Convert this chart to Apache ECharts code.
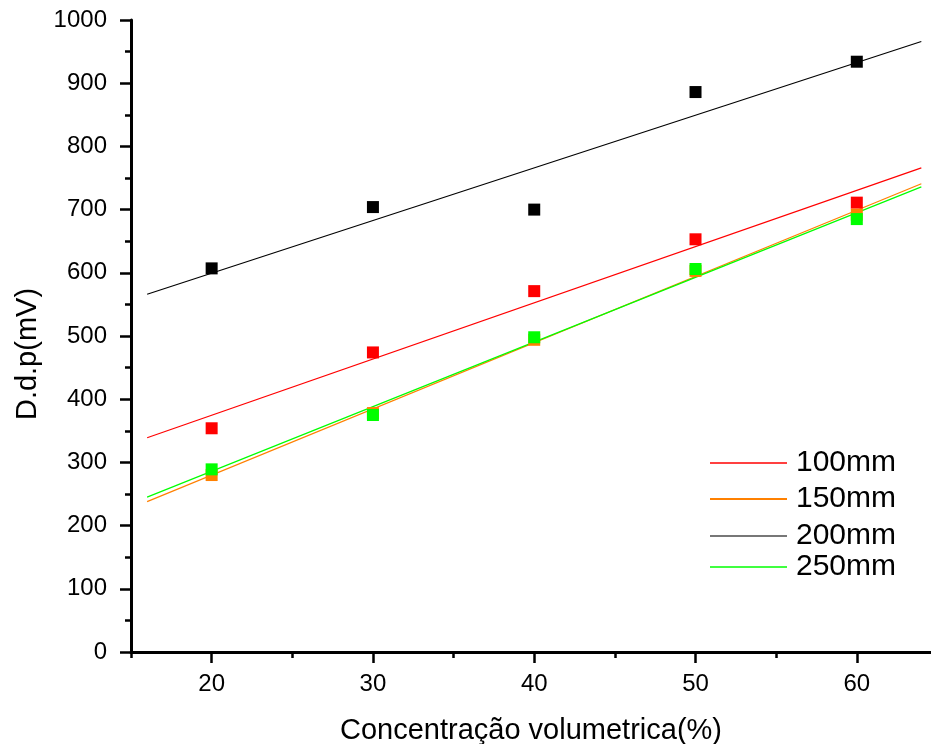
<!DOCTYPE html>
<html>
<head>
<meta charset="utf-8">
<script src="https://cdn.jsdelivr.net/npm/echarts@6/dist/echarts.min.js"></script>
<style>
  html, body { margin: 0; padding: 0; background: #fff; }
  #chart { width: 931px; height: 744px; }
</style>
</head>
<body>
<div id="chart"></div>
<script>
  var conc = [20, 30, 40, 50, 60];
  var ddp100 = [354, 474, 571, 653, 711];
  var ddp150 = [280, 378, 494, 603, 692];
  var ddp200 = [607, 704, 700, 886, 934];
  var ddp250 = [289, 375, 498, 606, 685];

  // retas de ajuste (extremos lidos)
  var fitX = [16, 64];
  var fit100 = [339, 766];
  var fit150 = [238, 741];
  var fit200 = [566, 966];
  var fit250 = [245, 736];

  var names = ['100mm', '150mm', '200mm', '250mm'];
  var xMajorTicks = [20, 30, 40, 50, 60];
  var xMinorTicks = [15, 25, 35, 45, 55];

  var colors = ['#ff0000', '#ff8000', '#000000', '#00ff00'];
  var legendColors = ['#ff4040', '#ff8000', '#777777', '#40ff40'];
  var legendTops = [443, 479, 516, 547];

  var font = 'Liberation Sans, Arial, sans-serif';
  var pts = [ddp100, ddp150, ddp200, ddp250];
  var fits = [fit100, fit150, fit200, fit250];

  function pairs(xs, ys) {
    return xs.map(function (x, i) { return [x, ys[i]]; });
  }

  var chart = echarts.init(document.getElementById('chart'));

  var series = [];
  names.forEach(function (n, i) {
    series.push({
      name: n,
      type: 'line',
      data: pairs(fitX, fits[i]),
      symbol: 'none',
      lineStyle: { color: colors[i], width: 1.2 },
      itemStyle: { color: colors[i] },
      silent: true,
      z: 2
    });
  });
  names.forEach(function (n, i) {
    series.push({
      name: n,
      type: 'scatter',
      data: pairs(conc, pts[i]),
      symbol: 'rect',
      symbolSize: 12,
      itemStyle: { color: colors[i], opacity: 1 },
      z: 3
    });
  });

  var legends = names.map(function (n, i) {
    return {
      left: 705,
      top: legendTops[i],
      orient: 'vertical',
      selectedMode: false,
      icon: 'rect',
      itemWidth: 77,
      itemHeight: 2,
      textStyle: { fontFamily: font, fontSize: 30, color: '#000', padding: [0, 0, 0, 4] },
      data: [{ name: n, itemStyle: { color: legendColors[i] } }]
    };
  });

  var axisLine = { show: true, onZero: false, lineStyle: { color: '#000', width: 3 } };

  var option = {
    animation: false,
    backgroundColor: '#fff',
    legend: legends,
    grid: [
      { left: 131, right: 0, top: 20, bottom: 92, outerBoundsMode: 'none' },
      { left: 131, right: 0, top: 20, bottom: 92, outerBoundsMode: 'none' }
    ],
    xAxis: [
      {
        type: 'value',
        gridIndex: 0,
        min: 15,
        max: 64.6,
        name: 'Concentração volumetrica(%)',
        nameLocation: 'middle',
        nameGap: 64,
        nameTextStyle: { fontFamily: font, fontSize: 29, color: '#000' },
        axisLine: axisLine,
        axisTick: { show: true, length: 11, customValues: xMajorTicks, lineStyle: { color: '#000', width: 2.5 } },
        axisLabel: { customValues: xMajorTicks, margin: 20, fontFamily: font, fontSize: 24, color: '#000' },
        splitLine: { show: false }
      },
      {
        type: 'value',
        gridIndex: 1,
        min: 15,
        max: 64.6,
        axisLine: { show: false },
        axisTick: { show: true, length: 6, customValues: xMinorTicks, lineStyle: { color: '#000', width: 2.5 } },
        axisLabel: { show: false },
        splitLine: { show: false }
      }
    ],
    yAxis: [
      {
        type: 'value',
        gridIndex: 0,
        min: 0,
        max: 1000,
        interval: 100,
        name: 'D.d.p(mV)',
        nameLocation: 'middle',
        nameGap: 81,
        nameTextStyle: { fontFamily: font, fontSize: 29, color: '#000', padding: [0, 36, 0, 0] },
        axisLine: axisLine,
        axisTick: { show: true, length: 11, lineStyle: { color: '#000', width: 2.5 } },
        minorTick: { show: true, splitNumber: 2, length: 6, lineStyle: { color: '#000', width: 2.5 } },
        axisLabel: {
          margin: 24, fontFamily: font, fontSize: 24, color: '#000',
          formatter: function (v) { return String(v); }
        },
        splitLine: { show: false },
        minorSplitLine: { show: false }
      },
      {
        type: 'value',
        gridIndex: 1,
        min: 0,
        max: 1000,
        show: false
      }
    ],
    series: series
  };

  chart.setOption(option);
</script>
</body>
</html>
